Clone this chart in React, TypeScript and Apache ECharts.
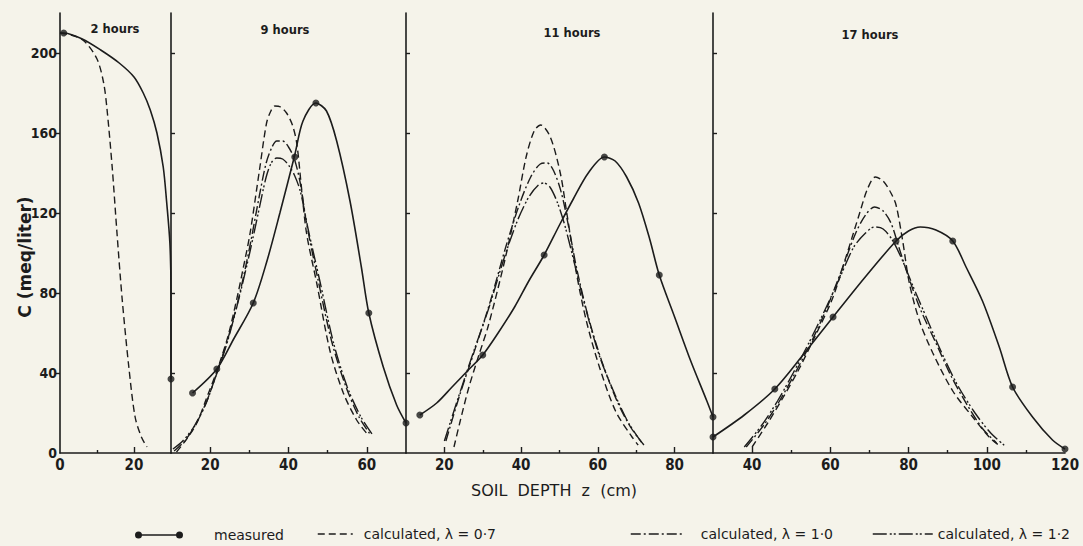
import React, { useEffect, useRef } from 'react';
import * as echarts from 'echarts';

// ---------- data ----------
const panelTitles = ['2 hours', '9 hours', '11 hours', '17 hours'];
const xMins = [0, 10, 10, 30];
const xMaxs = [30, 70, 90, 120];
const xLabelValues = [[0, 20], [20, 40, 60], [20, 40, 60, 80], [40, 60, 80, 100, 120]];
const xMajorTicks = [[20], [20, 40, 60], [20, 40, 60, 80], [40, 60, 80, 100]];
const xMinorTicks = [[10], [30, 50], [30, 50, 70], [50, 70, 90, 110]];
const yLabelValues = [0, 40, 80, 120, 160, 200];
const yTickValues = [40, 80, 120, 160, 200];

const seriesNames = ['measured', 'calculated, λ = 0·7', 'calculated, λ = 1·0', 'calculated, λ = 1·2'];

// 2 hours
const h2MeasuredPts = [[1, 210], [30, 37]];
const h2MeasuredLine = [[0, 210], [1, 210], [6, 207], [11, 201.5], [16, 195], [20, 188], [22.5, 180], [24.4, 171.5], [26.2, 160], [27.9, 143], [28.8, 126], [29.7, 105], [30, 80], [30, 37]];
const h2Calc07 = [[0, 210], [3, 209], [6.5, 206], [10, 197], [11.8, 185], [12.7, 172], [14.1, 143], [15.4, 110], [16.8, 77], [18.6, 43], [20.3, 18], [22, 8], [23.5, 3]];

// 9 hours
const h9MeasuredPts = [[15.5, 30], [21.7, 42], [31, 75], [41.6, 148], [47, 175], [60.5, 70], [70, 15]];
const h9MeasuredLine = [[15.5, 30], [21.7, 42], [26, 57], [31, 75], [34.5, 96], [37.8, 120], [41.6, 149], [43.7, 166], [47, 175], [49.7, 171], [52.3, 156], [55.7, 126], [58.6, 93], [60.5, 70], [64.2, 43], [67.6, 24], [70, 15]];
const h9Calc07 = [[11.4, 0.5], [14, 7], [16.6, 15], [19, 27], [21.7, 41], [24.5, 58], [26.8, 77], [28.5, 93], [30.2, 110], [32.7, 143], [34.4, 165], [35.5, 171], [36.5, 173.5], [38, 173], [39.5, 170], [41, 164], [42.1, 155], [43.3, 133], [44.6, 110], [47.2, 85], [50.6, 51], [54, 30], [57.4, 16.5], [59.9, 10]];
const h9Calc10 = [[10.8, 1], [13.5, 6], [16.2, 14], [19, 25], [21.5, 39], [24.2, 55], [26.6, 72], [28.5, 88], [30.3, 105], [32.5, 128], [34.3, 145], [35.8, 153], [37, 156], [38.5, 156], [40, 153], [41.5, 147], [43, 135], [44.6, 115], [47.5, 87], [51, 56], [54.5, 34], [58, 18], [61, 9]];
const h9Calc12 = [[10.5, 2], [13, 6], [15.8, 13], [18.7, 24], [21.2, 37], [24, 53], [26.4, 70], [28.3, 85], [30.2, 101], [32.5, 122], [34.3, 138], [35.6, 145], [37, 147.5], [38.5, 147], [40, 144], [41.5, 139], [43, 131], [45, 112], [48, 86], [51.5, 55], [55, 33], [58.5, 18], [61.5, 9]];

// 11 hours
const h11MeasuredPts = [[13.6, 19], [30, 49], [46, 99], [61.7, 148], [76, 89], [90, 18]];
const h11MeasuredLine = [[13.6, 19], [18, 25], [22, 33], [26, 41], [30, 49], [34, 60], [38.3, 73], [42, 86], [46, 99], [50, 114], [53.6, 127], [57.5, 140], [61.7, 148], [64.5, 146], [67.5, 138], [70.6, 125], [73.5, 107], [76, 89], [80, 68], [84.2, 46], [88.4, 26], [90, 18]];
const h11Calc07 = [[22.5, 3], [24, 15], [26.4, 33], [29, 49], [31.5, 64], [35.7, 96], [39.1, 126], [41.3, 148], [43.4, 161], [45.1, 164], [47.6, 158], [50.2, 140], [51.9, 120], [54.4, 90], [57, 66], [60.4, 43], [64.6, 21], [68.9, 8], [70.5, 4]];
const h11Calc10 = [[20.4, 6], [24, 29], [28, 52], [32, 76], [36, 103], [39.5, 124], [42.5, 138], [45, 144.5], [46.8, 145], [48.5, 141], [50.5, 130], [52.5, 112], [54.5, 92], [57.5, 68], [61, 46], [65, 26], [68.5, 13], [72, 4]];
const h11Calc12 = [[20, 6], [23.5, 27], [27.5, 50], [31.5, 72], [35.5, 97], [39, 116], [42, 128], [44.5, 134], [45.9, 135], [47.5, 133], [49.5, 125], [51.5, 113], [54, 94], [57, 71], [60.5, 48], [64.5, 29], [68, 15], [71.5, 5]];

// 17 hours
const h17MeasuredPts = [[30, 8], [45.8, 32], [60.7, 68], [76.8, 106], [91.3, 106], [106.6, 33], [120, 2]];
const h17MeasuredLine = [[30, 8], [38, 19], [45.8, 32], [53, 49], [60.7, 68], [68.5, 87], [76.8, 106], [80, 111], [83, 113], [87, 111.5], [91.3, 106], [94.7, 93], [98.9, 76], [103.2, 53], [106.6, 33], [111.7, 18], [116.8, 6.5], [120, 2]];
const h17Calc07 = [[40, 3], [44, 15], [48, 28], [52, 42], [56, 58], [60.5, 77], [64, 98], [67.5, 120], [69.5, 132], [71.5, 138], [73.5, 136], [75.5, 130], [76.8, 124], [78.5, 106], [80.2, 85], [82.8, 66], [86.2, 50], [91.3, 31], [96.4, 18], [100.6, 8], [103, 4]];
const h17Calc10 = [[38.5, 3], [43, 14], [47, 26], [51, 40], [55, 55], [59, 72], [63, 92], [66.5, 110], [69, 119], [71.3, 123], [73.5, 121], [75.5, 115], [77.5, 103], [80, 88], [83, 72], [87, 55], [91, 38], [95, 24], [99, 12], [102.5, 5]];
const h17Calc12 = [[38, 3], [42.5, 14], [46.5, 26], [50.5, 40], [54.5, 55], [58.5, 71], [62.5, 88], [66, 103], [69, 110], [71.3, 113], [73.5, 112], [76, 106], [78.5, 96], [81, 84], [84.5, 68], [88.5, 50], [92.5, 34], [97, 20], [101, 10], [105, 3]];

const measuredPts = [h2MeasuredPts, h9MeasuredPts, h11MeasuredPts, h17MeasuredPts];
const measuredLines = [h2MeasuredLine, h9MeasuredLine, h11MeasuredLine, h17MeasuredLine];
const calc07 = [h2Calc07, h9Calc07, h11Calc07, h17Calc07];
const calc10 = [null, h9Calc10, h11Calc10, h17Calc10];
const calc12 = [null, h9Calc12, h11Calc12, h17Calc12];

// ---------- layout & styles ----------
const INK = '#1c1c1c';
const BG = '#f5f3ea';
const TICK_FONT = "'DejaVu Sans Condensed', 'Liberation Sans Narrow', 'DejaVu Sans', sans-serif";
const TEXT_FONT = "'DejaVu Sans', Lato, sans-serif";
const GRID_TOP = 13;
const GRID_HEIGHT = 440;
const gridLefts = [60, 171, 406, 713];
const gridWidths = [111, 235, 307, 352];
const titlePos = [[115, 29], [285, 30], [572, 33], [870, 35]];
const dash07 = [7, 4];
const dash10 = [10, 3, 2, 3];
const dash12 = [14, 3, 2, 2, 2, 3];
const MEASURED_ICON =
  'path://M0,3.5A3.5,3.5,0,1,1,7,3.5A3.5,3.5,0,1,1,0,3.5ZM3.5,2.8H44.5V4.2H3.5ZM41,3.5A3.5,3.5,0,1,1,48,3.5A3.5,3.5,0,1,1,41,3.5Z';

function buildOption() {
  const grid = gridLefts.map((left, i) => ({ left, width: gridWidths[i], top: GRID_TOP, height: GRID_HEIGHT, containLabel: false }));

  const mainX = xMins.map((min, i) => ({
    type: 'value', gridIndex: i, min, max: xMaxs[i], position: 'bottom',
    axisLine: { show: true, onZero: false, lineStyle: { color: INK, width: 1.6 } },
    axisTick: { show: true, inside: true, length: 6, customValues: xMajorTicks[i], lineStyle: { color: INK, width: 1.4 } },
    axisLabel: { show: true, customValues: xLabelValues[i], margin: 4, color: INK, fontSize: 15, fontWeight: 'bold', fontFamily: TICK_FONT },
    splitLine: { show: false },
  }));
  const minorX = xMins.map((min, i) => ({
    type: 'value', gridIndex: i, min, max: xMaxs[i], position: 'bottom',
    axisLine: { show: false, onZero: false },
    axisTick: { show: true, inside: true, length: 3, customValues: xMinorTicks[i], lineStyle: { color: INK, width: 1.4 } },
    axisLabel: { show: false },
    splitLine: { show: false },
  }));
  const yAxis = xMins.map((_, i) => ({
    type: 'value', gridIndex: i, min: 0, max: 220,
    axisLine: { show: true, onZero: false, lineStyle: { color: INK, width: 1.6 } },
    axisTick: { show: true, inside: i > 0, length: 4, customValues: yTickValues, lineStyle: { color: INK, width: 1.4 } },
    axisLabel: { show: i === 0, customValues: yLabelValues, margin: 3, color: INK, fontSize: 14, fontWeight: 'bold', fontFamily: TICK_FONT },
    splitLine: { show: false },
  }));

  const series: any[] = [];
  for (let i = 0; i < 4; i++) {
    series.push({
      name: seriesNames[0], type: 'line', xAxisIndex: i, yAxisIndex: i, data: measuredLines[i],
      smooth: 0.3, symbol: 'none', lineStyle: { color: INK, width: 1.6 }, itemStyle: { color: INK }, z: 3,
    });
    series.push({
      name: seriesNames[0], type: 'scatter', xAxisIndex: i, yAxisIndex: i, data: measuredPts[i],
      symbol: 'circle', symbolSize: 7, itemStyle: { color: INK }, z: 4,
    });
    const calcs: [any, string, number[]][] = [
      [calc07[i], seriesNames[1], dash07],
      [calc10[i], seriesNames[2], dash10],
      [calc12[i], seriesNames[3], dash12],
    ];
    calcs.forEach(([d, name, dash]) => {
      if (!d) return;
      series.push({
        name, type: 'line', xAxisIndex: i, yAxisIndex: i, data: d, smooth: 0.3, symbol: 'none',
        lineStyle: { color: INK, width: 1.4, type: dash }, itemStyle: { color: INK }, z: 2,
      });
    });
  }

  const legendText = { color: INK, fontSize: 14, fontFamily: TEXT_FONT };
  const legend = [
    { left: 130, top: 523, itemWidth: 48, itemHeight: 7, selectedMode: false,
      data: [{ name: seriesNames[0], icon: MEASURED_ICON }], textStyle: { ...legendText, padding: [0, 0, 0, 26] } },
    { left: 312, top: 522, itemWidth: 35, itemHeight: 10, selectedMode: false, itemStyle: { opacity: 0 },
      lineStyle: { type: dash07, width: 1.5, color: INK }, data: [seriesNames[1]], textStyle: { ...legendText, padding: [0, 0, 0, 6] } },
    { left: 625, top: 522, itemWidth: 53, itemHeight: 10, selectedMode: false, itemStyle: { opacity: 0 },
      lineStyle: { type: dash10, width: 1.5, color: INK }, data: [seriesNames[2]], textStyle: { ...legendText, padding: [0, 0, 0, 12] } },
    { left: 867, top: 522, itemWidth: 60, itemHeight: 10, selectedMode: false, itemStyle: { opacity: 0 },
      lineStyle: { type: dash12, width: 1.5, color: INK }, data: [seriesNames[3]], textStyle: { ...legendText, padding: [0, 0, 0, 0] } },
  ];

  const graphic: any[] = panelTitles.map((t, i) => ({
    type: 'text', x: titlePos[i][0], y: titlePos[i][1],
    style: { text: t, align: 'center', verticalAlign: 'middle', fill: INK, fontSize: 11.5, fontWeight: 'bold', fontFamily: TEXT_FONT },
  }));
  graphic.push({
    type: 'text', x: 554, y: 490,
    style: { text: 'SOIL  DEPTH  z  (cm)', align: 'center', verticalAlign: 'middle', fill: INK, fontSize: 16, fontFamily: TEXT_FONT },
  });
  graphic.push({
    type: 'text', x: 25, y: 257, rotation: Math.PI / 2,
    style: { text: 'C (meq/liter)', align: 'center', verticalAlign: 'middle', fill: INK, fontSize: 17, fontWeight: 'bold', fontFamily: TEXT_FONT },
  });

  return {
    animation: false,
    backgroundColor: BG,
    grid,
    xAxis: [...mainX, ...minorX],
    yAxis,
    legend,
    series,
    graphic,
  };
}

export default function App() {
  const ref = useRef<HTMLDivElement>(null);
  useEffect(() => {
    if (!ref.current) return;
    const chart = echarts.init(ref.current, null, { renderer: 'svg' });
    chart.setOption(buildOption() as any);
    return () => chart.dispose();
  }, []);
  return <div ref={ref} style={{ position: 'absolute', left: 0, top: 0, width: 1083, height: 546 }} />;
}
